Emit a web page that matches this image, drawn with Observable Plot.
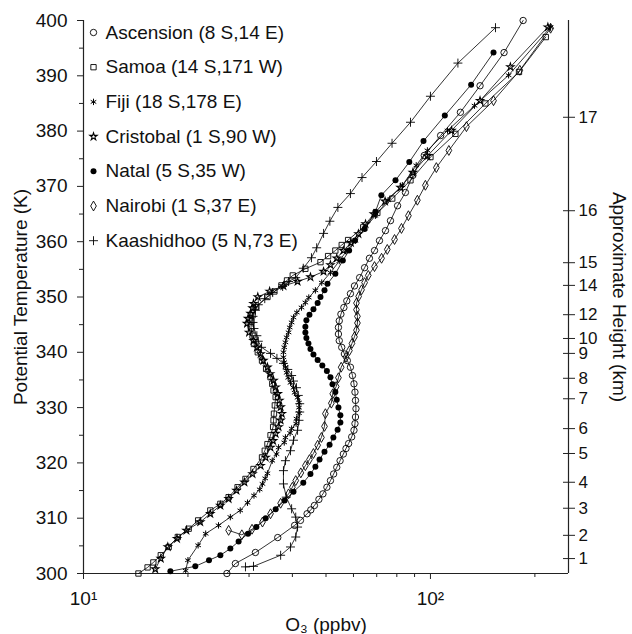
<!DOCTYPE html>
<html><head><meta charset="utf-8">
<script src="https://cdn.jsdelivr.net/npm/d3@7"></script>
<script src="https://cdn.jsdelivr.net/npm/@observablehq/plot@0.6"></script>
<style>
body{margin:0;background:#fff;}
#chart{width:632px;height:634px;}
</style></head><body><div id="chart"></div>
<script>
// ---- data (potential temperature K, ozone ppbv) ----
const stationNames = ["Ascension (8 S,14 E)","Samoa (14 S,171 W)","Fiji (18 S,178 E)","Cristobal (1 S,90 W)","Natal (5 S,35 W)","Nairobi (1 S,37 E)","Kaashidhoo (5 N,73 E)"];

const ascTheta = [300.0,301.8,303.8,306.5,308.7,309.6,310.8,311.5,312.3,313.4,314.4,315.6,316.8,318.0,319.2,320.4,321.6,322.6,323.5,324.7,325.9,327.1,328.3,329.8,331.3,332.8,334.3,335.8,337.3,338.5,339.7,340.9,342.1,343.3,344.5,345.7,346.9,348.1,349.3,350.6,352.0,353.5,355.3,357.0,358.4,360.2,362.0,363.8,366.5,368.9,372.0,375.6,379.2,383.4,388.2,394.2,400.0];
const ascO3    = [25.9,27.4,31.3,36.3,40.6,42.2,44.1,45.2,46.3,47.7,49.0,50.3,51.5,52.6,53.7,54.9,56.1,57.1,58.1,59.3,60.2,60.6,60.8,61.0,60.8,60.6,60.2,59.6,58.8,57.6,56.5,55.5,54.6,54.3,54.3,54.6,55.2,56.3,57.4,58.8,60.4,62.5,64.6,66.7,69.0,71.3,74.2,76.7,80.4,84.7,89.0,96.0,107,122,139,163,185];

const samTheta = [300.0,301.1,302.0,303.3,304.8,306.6,308.1,309.6,311.4,312.6,313.8,315.6,317.1,318.9,321.0,322.2,323.4,325.0,326.5,327.7,328.9,330.4,331.9,333.1,334.3,335.5,337.0,338.5,340.0,341.5,343.0,344.5,345.6,346.7,348.2,350.0,351.0,352.1,353.0,353.9,355.1,356.3,357.4,358.4,359.4,360.3,362.6,365.2,367.8,371.1,375.3,379.5,385.0,390.7,397.0];
const samO3    = [14.4,15.3,15.9,16.7,17.6,18.7,20.1,21.4,23.2,24.8,26.2,27.8,29.3,30.9,32.7,33.3,33.9,34.6,35.2,35.3,35.4,35.6,35.8,35.3,35.0,34.6,33.6,32.7,31.8,31.0,30.7,30.4,30.5,30.7,31.5,33.9,35.5,37.2,38.6,40.1,43.6,48.2,50.7,53.2,55.5,57.9,64.0,70.3,77.6,87.6,100,118,144,180,215];

const fijTheta = [300.5,302.4,305.1,307.2,308.7,310.2,311.4,312.8,314.1,315.2,316.2,317.2,318.1,320.4,321.6,322.8,323.7,324.6,325.4,326.2,327.1,328.0,329.0,330.0,330.9,331.8,332.7,333.6,334.5,335.4,336.3,337.3,338.2,339.1,340.0,340.9,341.8,342.7,343.6,344.5,345.4,346.3,347.2,348.1,349.0,349.9,351.2,352.6,354.4,356.5,358.4,360.2,362.4,364.7,367.5,370.2,373.8,376.5,380.1,384.6,390.1,398.8];
const fijO3    = [19.7,20.0,21.4,22.5,24.5,26.5,28.3,29.7,31.0,32.2,32.8,33.4,33.9,35.0,36.0,36.5,37.9,38.2,39.4,39.8,41.0,41.1,41.8,41.8,41.8,41.4,40.6,40.3,39.5,38.9,38.5,38.2,37.9,37.7,37.7,37.9,38.2,38.5,39.0,39.3,39.8,40.3,41.2,42.5,43.6,44.6,46.6,48.6,51.5,54.6,57.4,60.8,64.6,69.4,75.5,83.0,91.0,98.0,112,134,168,222];

const criTheta = [300.8,302.7,304.8,306.3,307.8,309.3,310.8,312.3,313.5,315.0,316.5,318.0,319.5,321.0,322.8,324.0,325.3,326.5,327.7,328.9,330.1,331.3,332.5,333.7,334.9,336.1,337.3,338.5,339.7,340.9,342.1,343.6,345.2,346.1,347.0,348.0,348.8,350.0,351.0,352.0,352.8,353.6,354.6,355.8,357.0,358.4,359.8,361.4,363.2,365.0,367.3,369.8,372.5,375.5,380.1,385.5,391.6,398.8];
const criO3    = [16.1,16.7,17.5,18.6,19.8,21.7,23.2,24.8,26.2,27.6,29.1,30.7,32.4,33.5,34.6,35.2,35.8,36.5,37.0,37.3,37.0,36.7,36.3,35.8,35.3,34.5,33.9,33.0,32.4,31.6,30.9,30.0,29.6,29.8,30.3,30.7,30.9,31.8,34.4,37.7,41.4,45.1,49.2,51.5,53.7,56.1,59.0,62.0,65.0,68.7,74.0,82.0,89.0,98.0,115,139,170,218];

const natTheta = [300.4,301.3,302.4,303.3,304.5,305.8,307.2,308.4,310.0,311.6,313.2,314.8,316.4,318.0,319.3,320.6,322.0,323.3,324.6,326.0,327.3,328.6,330.0,331.4,332.8,334.2,335.5,336.6,337.6,338.6,339.6,340.6,341.6,342.6,343.6,344.6,345.8,346.8,347.8,348.9,350.0,351.2,352.4,354.2,356.6,358.4,360.2,362.3,365.4,368.4,371.1,374.4,378.2,382.8,388.4,394.2];
const natO3    = [17.8,21.0,23.0,24.8,26.5,28.0,29.8,31.5,33.5,35.8,38.0,40.3,43.0,45.1,46.6,47.9,49.5,51.2,52.5,54.0,55.0,55.0,54.3,53.7,53.2,52.2,51.5,50.3,48.8,47.3,46.0,45.1,44.5,43.9,43.6,43.6,43.9,44.8,46.0,47.3,48.2,49.5,50.5,53.2,55.9,58.3,60.6,64.6,69.4,72.2,79.3,86.9,95.5,110,131,152];

const naiTheta = [307.8,307.0,308.0,309.3,310.8,312.7,314.4,315.6,316.8,318.2,319.5,320.6,321.7,323.2,324.6,326.6,328.9,330.8,332.5,333.8,335.4,337.3,339.1,340.3,341.6,342.8,344.0,345.3,346.5,347.7,348.9,350.1,351.3,352.6,353.9,355.5,357.0,358.6,360.4,362.4,364.7,367.5,370.2,373.4,376.5,380.8,385.5,391.0,398.6];
const naiO3    = [26.2,28.6,30.6,32.8,34.6,37.0,39.0,40.0,40.9,42.3,43.6,44.8,46.0,47.3,48.5,49.5,49.8,51.8,52.3,53.5,54.3,55.3,57.1,58.4,59.4,60.4,61.2,61.6,61.6,61.2,61.2,62.1,63.3,64.6,66.2,69.0,72.3,75.1,78.8,82.5,86.4,91.7,96.7,104,113,127,152,181,222];

const kaaTheta = [301.2,301.3,303.3,304.8,306.6,308.4,310.2,311.7,313.8,316.2,318.6,320.4,322.2,324.1,325.9,327.7,329.2,330.7,332.2,333.6,334.8,335.8,336.9,338.0,338.9,339.8,340.9,342.0,343.0,344.3,345.4,346.5,347.6,348.6,349.7,350.8,351.9,352.8,353.5,355.2,357.1,358.9,361.5,363.7,366.2,368.7,371.6,374.5,377.8,381.6,386.3,392.3,398.7];
const kaaO3    = [29.3,30.9,37.0,39.5,40.9,41.4,40.9,39.8,38.4,37.7,37.7,38.2,39.5,40.3,41.4,41.8,42.0,42.0,41.6,41.1,40.3,39.8,38.8,37.7,36.1,34.6,32.6,31.9,31.6,31.0,30.8,30.8,31.3,31.9,33.3,35.1,37.5,39.0,40.9,43.0,45.4,47.0,49.2,51.3,54.1,58.8,63.5,69.9,77.5,87.6,100,120,154];

// axes
const thetaTicks = [300,310,320,330,340,350,360,370,380,390,400];
const thetaMinor = [305,315,325,335,345,355,365,375,385,395];
const o3Major = [10,100];
const o3MajorLabels = ["10\u00B9","10\u00B2"];
const o3Minor = [20,30,40,50,60,70,80,90,200];
const heightLabels = ["1","2","3","4","5","6","7","8","9","10","12","14","15","16","17"];
const heightTheta  = [302.7,306.9,311.8,316.5,321.7,326.2,331.6,335.3,339.8,342.5,346.8,352.1,356.2,365.6,382.5];

// ---- build ----
const thetas = [ascTheta,samTheta,fijTheta,criTheta,natTheta,naiTheta,kaaTheta];
const o3s    = [ascO3,samO3,fijO3,criO3,natO3,naiO3,kaaO3];
const styles = [
  {symbol:"circle",  fill:"none",  stroke:"black", r:3.2, sw:0.9},
  {symbol:"square",  fill:"none",  stroke:"black", r:3.0, sw:0.9},
  {symbol:"asterisk",fill:"none",  stroke:"black", r:3.0, sw:1.0},
  {symbol:"star",    fill:"none",  stroke:"black", r:2.3, sw:1.1},
  {symbol:"circle",  fill:"black", stroke:"none",  r:3.0, sw:0},
  {symbol:"diamond", fill:"none",  stroke:"black", r:3.0, sw:0.9},
  {symbol:"plus",    fill:"none",  stroke:"black", r:3.0, sw:0.9}
];
const series = stationNames.map((name,k)=>thetas[k].map((t,i)=>({station:name, theta:t, o3:o3s[k][i]})));

const font = "Liberation Sans, Arial, Helvetica, sans-serif";
const fs = 19;
const heightMap = new Map(heightTheta.map((t,i)=>[t,heightLabels[i]]));
const o3LabelMap = new Map(o3Major.map((v,i)=>[v,o3MajorLabels[i]]));

const marks = [];
// frame lines (left, bottom, right)
marks.push(Plot.ruleX([10], {stroke:"#222", strokeWidth:1.2}));
marks.push(Plot.ruleX([250], {stroke:"#222", strokeWidth:1.2}));
marks.push(Plot.ruleY([300], {stroke:"#222", strokeWidth:1.2}));
// axes
marks.push(Plot.axisY({anchor:"left", ticks:thetaTicks, tickSize:6, tickPadding:10, fontSize:fs, label:null, stroke:"#222"}));
marks.push(Plot.axisY({anchor:"left", ticks:thetaMinor, tickSize:4, tickFormat:()=>"", label:null, stroke:"#222"}));
marks.push(Plot.axisY({anchor:"right", ticks:heightTheta, tickSize:12, dx:-6, tickPadding:4, fontSize:17, tickFormat:d=>heightMap.get(d), label:null, stroke:"#222"}));
marks.push(Plot.axisX({anchor:"bottom", ticks:o3Major, tickSize:6, tickPadding:12, fontSize:fs, tickFormat:d=>o3LabelMap.get(d), label:null, stroke:"#222"}));
marks.push(Plot.axisX({anchor:"bottom", ticks:o3Minor, tickSize:4, tickFormat:()=>"", label:null, stroke:"#222"}));
// data
series.forEach((data,k)=>{
  const s = styles[k];
  marks.push(Plot.line(data, {x:"o3", y:"theta", stroke:"black", strokeWidth:0.8}));
  marks.push(Plot.dot(data, {x:"o3", y:"theta", symbol:s.symbol, fill:s.fill, stroke:s.stroke, strokeWidth:s.sw, r:s.r}));
});
// legend
stationNames.forEach((name,k)=>{
  const s = styles[k];
  marks.push(Plot.dot([name], {frameAnchor:"top-left", dx:10, dy:12+34.7*k, symbol:s.symbol, fill:s.fill, stroke:s.stroke, strokeWidth:s.sw, r:s.r}));
  marks.push(Plot.text([name], {frameAnchor:"top-left", dx:22, dy:12+34.7*k, textAnchor:"start", lineAnchor:"middle", fontSize:fs, fill:"#111"}));
});
// axis titles
marks.push(Plot.text(["Potential Temperature (K)"], {frameAnchor:"left", dx:-63, rotate:-90, textAnchor:"middle", lineAnchor:"middle", fontSize:fs, fill:"#111"}));
marks.push(Plot.text(["Approximate Height (km)"], {frameAnchor:"right", dx:51, rotate:90, textAnchor:"middle", lineAnchor:"middle", fontSize:fs, fill:"#111"}));
marks.push(Plot.text(["O\u2083 (ppbv)"], {frameAnchor:"bottom", dy:51, textAnchor:"middle", lineAnchor:"middle", fontSize:fs, fill:"#111"}));

const chart = Plot.plot({
  width:632, height:634,
  marginLeft:83, marginRight:64, marginTop:20, marginBottom:61,
  style:{fontFamily:font, fontSize:fs+"px", background:"#fff", color:"#111"},
  x:{type:"log", domain:[10,250]},
  y:{domain:[300,400]},
  marks
});
document.getElementById("chart").appendChild(chart);
</script>
</body></html>
